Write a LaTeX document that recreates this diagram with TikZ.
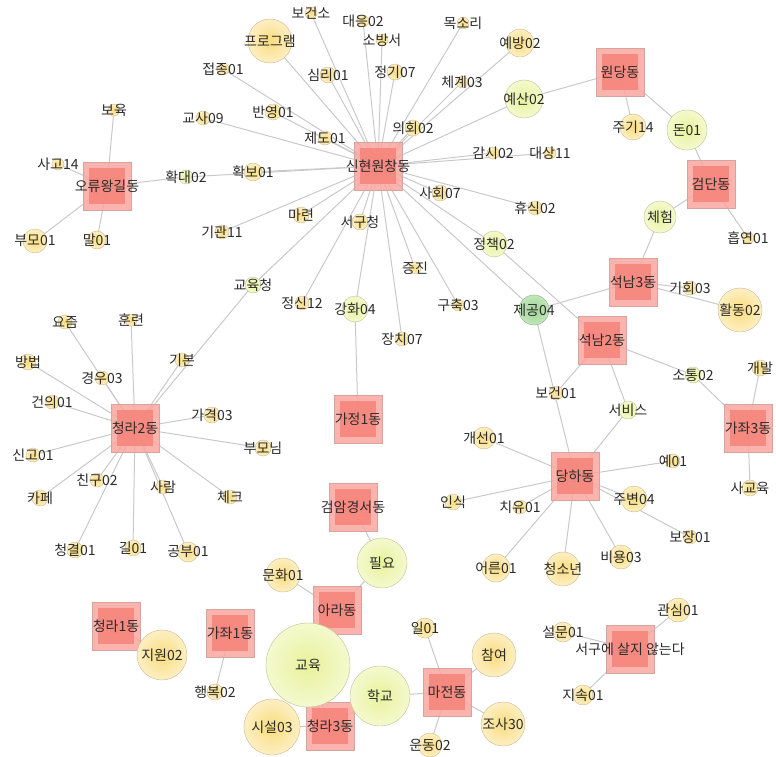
\documentclass[tikz,border=0pt]{standalone}
\usepackage{fontspec}
\setmainfont{Noto Sans CJK KR}
\usetikzlibrary{backgrounds}

\definecolor{linkgray}{HTML}{C9C9C9}
\definecolor{dongout}{HTML}{F9A79F}
\definecolor{dongin}{HTML}{F6837A}
\definecolor{dongline}{HTML}{D6A39E}
\definecolor{wordin}{HTML}{F9DC7C}
\definecolor{wordout}{HTML}{FDEFC4}
\definecolor{wordline}{HTML}{CDB98C}
\definecolor{limein}{HTML}{E7F29A}
\definecolor{limeout}{HTML}{F5F9CF}
\definecolor{limeline}{HTML}{BCC48F}
\definecolor{leafin}{HTML}{9CD495}
\definecolor{leafout}{HTML}{C3E6BB}
\definecolor{leafline}{HTML}{8BB386}
\definecolor{labeltext}{HTML}{2B2B2B}

\begin{document}
\begin{tikzpicture}[x=1pt, y=-1pt,
	word/.style={circle, draw=wordline, inner color=wordin, outer color=wordout, inner sep=0pt, minimum size=#1pt},
	lime/.style={word=#1, draw=limeline, inner color=limein, outer color=limeout},
	leaf/.style={word=#1, draw=leafline, inner color=leafin, outer color=leafout},
	dong/.style={rectangle, draw=dongline, fill=dongout, fill opacity=0.85, minimum size=48pt, inner sep=0pt,
		path picture={\fill[dongin] ([shift={(6pt,6pt)}]path picture bounding box.south west) rectangle ([shift={(-6pt,-6pt)}]path picture bounding box.north east);}},
	link/.style={draw=linkgray, line width=1pt},
	lbl/.style={text=labeltext, font=\fontsize{14}{16}\selectfont, inner sep=0pt}]
	\useasboundingbox (0,0) rectangle (776,757);

	% dong
	\node[dong] (sinhyeon) at (378,166) {};
	\node[dong] (oryu) at (107,186) {};
	\node[dong] (wondang) at (620,72) {};
	\node[dong] (geomdan) at (711,184) {};
	\node[dong] (seoknam3) at (633,282) {};
	\node[dong] (seoknam2) at (602,340) {};
	\node[dong] (gajwa3) at (748,428) {};
	\node[dong] (dangha) at (575,476) {};
	\node[dong] (cheongna2) at (135,428) {};
	\node[dong] (gajeong1) at (358,419) {};
	\node[dong] (geomam) at (353,507) {};
	\node[dong] (ara) at (337,610) {};
	\node[dong] (cheongna1) at (116,626) {};
	\node[dong] (gajwa1) at (230,633) {};
	\node[dong] (cheongna3) at (330,726) {};
	\node[dong] (majeon) at (447,692) {};
	\node[dong] (notseogu) at (630,649) {};

	% words
	\node[word=44] (program) at (270,41) {};
	\node[word=12] (bogeonso) at (311,13) {};
	\node[word=12] (daeeung) at (363,21) {};
	\node[word=12] (sobangseo) at (382,40) {};
	\node[word=12] (moksori) at (463,23) {};
	\node[word=28] (yebang) at (520,43) {};
	\node[word=16] (simri) at (328,75) {};
	\node[word=16] (jeonggi) at (395,72) {};
	\node[word=12] (chegye) at (462,82) {};
	\node[lime=38] (yesan) at (524,99) {};
	\node[word=12] (jeopjong) at (223,69) {};
	\node[word=16] (banyeong) at (273,112) {};
	\node[word=14] (gyosa) at (203,118) {};
	\node[word=14] (jedo) at (325,138) {};
	\node[word=16] (uihoe) at (413,128) {};
	\node[word=18] (hwakbo) at (253,172) {};
	\node[lime=14] (hwakdae) at (186,177) {};
	\node[word=12] (gamsi) at (493,153) {};
	\node[word=12] (daesang) at (550,153) {};
	\node[word=16] (sahoe) at (440,193) {};
	\node[word=14] (hyusik) at (535,208) {};
	\node[word=16] (maryeon) at (301,215) {};
	\node[word=16] (seogucheong) at (360,222) {};
	\node[word=14] (gigwan) at (222,232) {};
	\node[lime=26] (jeongchaek) at (494,244) {};
	\node[lime=16] (gyoyukcheong) at (253,285) {};
	\node[word=14] (jeongsin) at (302,303) {};
	\node[lime=26] (ganghwa) at (355,309) {};
	\node[word=12] (jeungjin) at (415,268) {};
	\node[word=12] (guchuk) at (458,305) {};
	\node[word=14] (jangchi) at (402,339) {};
	\node[leaf=30] (jegong) at (534,310) {};

	\node[word=12] (boyuk) at (114,110) {};
	\node[word=12] (sago) at (58,164) {};
	\node[word=24] (bumo) at (35,241) {};
	\node[word=18] (mal) at (97,240) {};

	\node[word=26] (juki) at (633,127) {};
	\node[lime=40] (don) at (687,130) {};
	\node[lime=32] (cheheom) at (660,217) {};
	\node[word=12] (heupyeon) at (748,238) {};
	\node[word=14] (gihoe) at (690,288) {};
	\node[word=44] (hwaldong) at (740,310) {};
	\node[lime=16] (sotong) at (693,375) {};
	\node[word=14] (bogeon) at (556,393) {};
	\node[lime=18] (service) at (628,410) {};
	\node[word=16] (gaebal) at (760,368) {};
	\node[word=16] (sagyoyuk) at (750,488) {};

	\node[word=14] (ye) at (673,461) {};
	\node[word=26] (jubyeon) at (634,499) {};
	\node[word=14] (bojang) at (690,537) {};
	\node[word=24] (biyong) at (621,557) {};
	\node[word=34] (cheongsonyeon) at (563,569) {};
	\node[word=28] (eoreun) at (496,568) {};
	\node[word=14] (chiyu) at (520,507) {};
	\node[word=16] (insik) at (453,502) {};
	\node[word=22] (gaeseon) at (484,438) {};

	\node[word=14] (yojeum) at (65,322) {};
	\node[word=12] (hullyeon) at (131,320) {};
	\node[word=16] (bangbeop) at (28,362) {};
	\node[word=14] (gyeongu) at (102,378) {};
	\node[word=14] (gibon) at (182,360) {};
	\node[word=14] (geonui) at (52,402) {};
	\node[word=16] (gagyeok) at (212,415) {};
	\node[word=16] (bumonim) at (263,448) {};
	\node[word=14] (singo) at (33,455) {};
	\node[word=14] (chingu) at (97,480) {};
	\node[word=14] (saram) at (163,487) {};
	\node[word=16] (kape) at (40,498) {};
	\node[word=14] (chekeu) at (230,497) {};
	\node[word=16] (cheonggyeol) at (75,550) {};
	\node[word=16] (gil) at (133,548) {};
	\node[word=20] (gongbu) at (188,552) {};

	\node[word=34] (munhwa) at (283,575) {};
	\node[lime=50] (piryo) at (382,563) {};
	\node[lime=84] (gyoyuk) at (308,665) {};
	\node[word=50] (jiwon) at (162,655) {};
	\node[word=16] (haengbok) at (215,692) {};
	\node[word=56] (siseol) at (272,727) {};
	\node[lime=60] (hakgyo) at (380,696) {};
	\node[word=20] (il) at (425,628) {};
	\node[word=44] (chamyeo) at (494,655) {};
	\node[word=44] (josa) at (503,724) {};
	\node[word=24] (undong) at (430,745) {};
	\node[word=24] (gwansim) at (678,610) {};
	\node[word=20] (seolmun) at (563,632) {};
	\node[word=20] (jisok) at (583,695) {};

	% links
	\begin{pgfonlayer}{background}
		\foreach \w in {program,bogeonso,daeeung,sobangseo,moksori,yebang,simri,jeonggi,chegye,yesan,jeopjong,banyeong,gyosa,jedo,uihoe,hwakbo,hwakdae,gamsi,daesang,sahoe,hyusik,maryeon,seogucheong,gigwan,jeongchaek,gyoyukcheong,jeongsin,ganghwa,jeungjin,guchuk,jangchi,jegong}
			\draw[link] (sinhyeon.center) -- (\w.center);
		\foreach \w in {boyuk,sago,bumo,mal,hwakdae}
			\draw[link] (oryu.center) -- (\w.center);
		\foreach \w in {yesan,juki,don}
			\draw[link] (wondang.center) -- (\w.center);
		\foreach \w in {don,cheheom,heupyeon}
			\draw[link] (geomdan.center) -- (\w.center);
		\foreach \w in {cheheom,jegong,gihoe,hwaldong}
			\draw[link] (seoknam3.center) -- (\w.center);
		\foreach \w in {jeongchaek,bogeon,service,sotong}
			\draw[link] (seoknam2.center) -- (\w.center);
		\foreach \w in {sotong,gaebal,sagyoyuk}
			\draw[link] (gajwa3.center) -- (\w.center);
		\foreach \w in {jegong,service,ye,jubyeon,bojang,biyong,cheongsonyeon,eoreun,chiyu,insik,gaeseon}
			\draw[link] (dangha.center) -- (\w.center);
		\foreach \w in {gyoyukcheong,yojeum,hullyeon,bangbeop,gyeongu,gibon,geonui,gagyeok,bumonim,singo,chingu,saram,kape,chekeu,cheonggyeol,gil,gongbu}
			\draw[link] (cheongna2.center) -- (\w.center);
		\draw[link] (gajeong1.center) -- (ganghwa.center);
		\draw[link] (geomam.center) -- (piryo.center);
		\foreach \w in {piryo,munhwa,gyoyuk}
			\draw[link] (ara.center) -- (\w.center);
		\draw[link] (cheongna1.center) -- (jiwon.center);
		\draw[link] (gajwa1.center) -- (haengbok.center);
		\foreach \w in {gyoyuk,siseol,hakgyo}
			\draw[link] (cheongna3.center) -- (\w.center);
		\foreach \w in {hakgyo,il,chamyeo,josa,undong}
			\draw[link] (majeon.center) -- (\w.center);
		\foreach \w in {gwansim,seolmun,jisok}
			\draw[link] (notseogu.center) -- (\w.center);
	\end{pgfonlayer}

	% labels
	\foreach \nm/\tx in {sinhyeon/신현원창동, oryu/오류왕길동, wondang/원당동, geomdan/검단동, seoknam3/석남3동,
		seoknam2/석남2동, gajwa3/가좌3동, dangha/당하동, cheongna2/청라2동, gajeong1/가정1동, geomam/검암경서동,
		ara/아라동, cheongna1/청라1동, gajwa1/가좌1동, cheongna3/청라3동, majeon/마전동, notseogu/서구에 살지 않는다,
		program/프로그램, bogeonso/보건소, daeeung/대응02, sobangseo/소방서, moksori/목소리, yebang/예방02,
		simri/심리01, jeonggi/정기07, chegye/체계03, yesan/예산02, jeopjong/접종01, banyeong/반영01, gyosa/교사09,
		jedo/제도01, uihoe/의회02, hwakbo/확보01, hwakdae/확대02, gamsi/감시02, daesang/대상11, sahoe/사회07,
		hyusik/휴식02, maryeon/마련, seogucheong/서구청, gigwan/기관11, jeongchaek/정책02, gyoyukcheong/교육청,
		jeongsin/정신12, ganghwa/강화04, jeungjin/증진, guchuk/구축03, jangchi/장치07, jegong/제공04,
		boyuk/보육, sago/사고14, bumo/부모01, mal/말01, juki/주기14, don/돈01, cheheom/체험, heupyeon/흡연01,
		gihoe/기회03, hwaldong/활동02, sotong/소통02, bogeon/보건01, service/서비스, gaebal/개발, sagyoyuk/사교육,
		ye/예01, jubyeon/주변04, bojang/보장01, biyong/비용03, cheongsonyeon/청소년, eoreun/어른01, chiyu/치유01,
		insik/인식, gaeseon/개선01, yojeum/요즘, hullyeon/훈련, bangbeop/방법, gyeongu/경우03, gibon/기본,
		geonui/건의01, gagyeok/가격03, bumonim/부모님, singo/신고01, chingu/친구02, saram/사람, kape/카페,
		chekeu/체크, cheonggyeol/청결01, gil/길01, gongbu/공부01, munhwa/문화01, piryo/필요, gyoyuk/교육,
		jiwon/지원02, haengbok/행복02, siseol/시설03, hakgyo/학교, il/일01, chamyeo/참여, josa/조사30,
		undong/운동02, gwansim/관심01, seolmun/설문01, jisok/지속01}
		\node[lbl] at (\nm) {\tx};
\end{tikzpicture}
\end{document}
